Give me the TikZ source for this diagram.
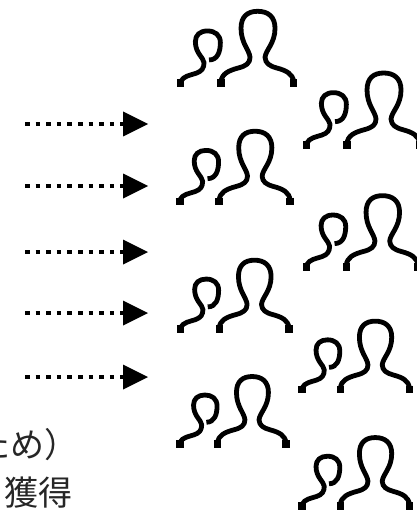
\documentclass[tikz,border=0pt]{standalone}
\usepackage{fontspec}
\newfontfamily\cjk{Noto Sans CJK JP}
\usetikzlibrary{arrows.meta}
\tikzset{
  person/.style={line width=4.8pt,line cap=butt,line join=round,black},
  stub/.style={line width=7.5pt,line cap=butt,black},
  dotarrow/.style={line width=4.6pt,black,dash pattern=on 4.6pt off 6pt,-{Triangle[length=25pt,width=25pt,line width=0pt]}},
  caption/.style={font=\cjk\fontsize{34}{34}\selectfont,anchor=east,inner sep=0pt,text=black!85}
}
\newcommand{\people}[3]{%
\begin{scope}[shift={({#1-20*#3/3},{#2-25*#3/3})},x=#3*0.3333pt,y=-#3*0.3333pt]
 \draw[person] (153,245) .. controls (155,222) and (175,212) .. (205,204) .. controls (228,198) and (240,190) .. (240,172) .. controls (238,150) and (213,130) .. (213,85) .. controls (213,50) and (232,34) .. (263,34) .. controls (294,34) and (315,50) .. (315,85) .. controls (315,130) and (287,150) .. (285,172) .. controls (286,190) and (298,198) .. (320,204) .. controls (350,212) and (368,222) .. (371,245);
 \draw[stub] (153,238) -- (153,262);
 \draw[stub] (371,238) -- (371,262);
 \draw[person] (32,245) .. controls (40,228) and (60,226) .. (78,220) .. controls (95,214) and (102,205) .. (102,188) .. controls (100,172) and (76,160) .. (76,125) .. controls (76,105) and (90,93) .. (112,93) .. controls (135,93) and (151,105) .. (151,128) .. controls (151,155) and (143,180) .. (117,180);
 \draw[stub] (32,238) -- (32,262);
\end{scope}}
\begin{document}
\begin{tikzpicture}[x=1pt,y=-1pt]
\useasboundingbox (0,0) rectangle (416,513);
\people{176.7}{8.3}{1}
\people{302.7}{70}{1}
\people{176}{128.3}{.975}
\people{302.7}{192.7}{.985}
\people{176.7}{257.3}{.96}
\people{298.3}{318.3}{.95}
\people{176}{373.7}{.94}
\people{298.3}{434.7}{.95}
\foreach \n/\y in {a/124,b/186,c/252,d/313,e/377}{
 \coordinate (s\n) at (25,\y);
 \coordinate (t\n) at (148,\y);
 \draw[dotarrow] (s\n) -- (t\n);
}
\node[caption] (l1) at (79,445) {ため）};
\node[caption] (l2) at (73,493) {獲得};
\end{tikzpicture}
\end{document}
